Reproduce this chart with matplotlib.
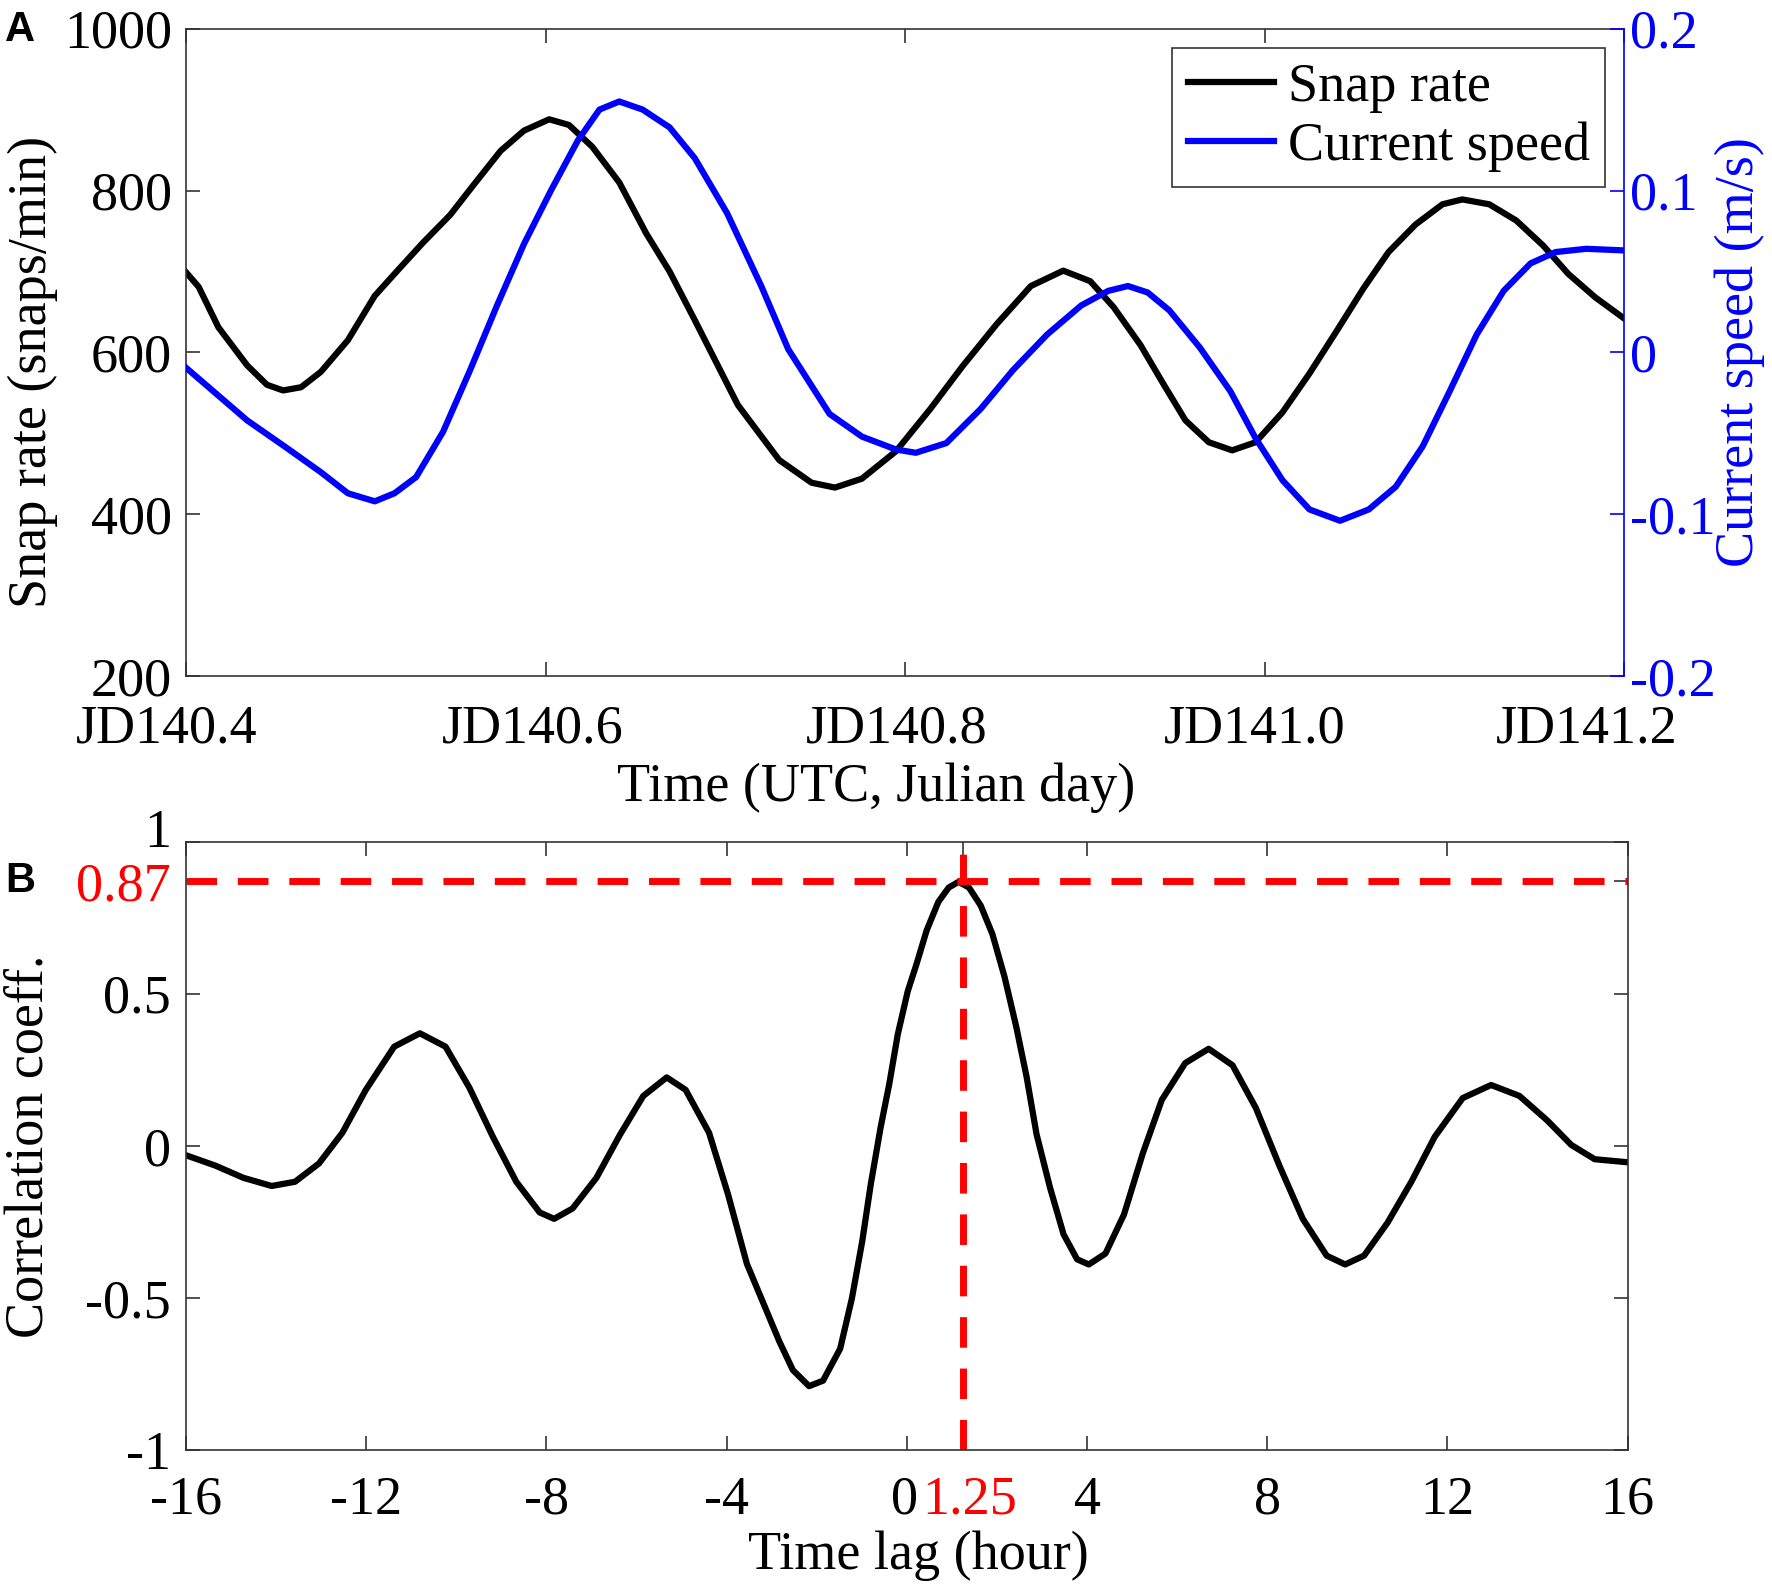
import numpy as np
import matplotlib
matplotlib.use("Agg")
import matplotlib.pyplot as plt
from matplotlib.transforms import ScaledTranslation

plt.rcParams['font.family'] = ['Liberation Serif', 'DejaVu Serif']
plt.rcParams['axes.unicode_minus'] = False

# --- panel A: snap rate and current speed vs Julian day ---
jd_snap = [140.400, 140.407, 140.418, 140.434, 140.445, 140.454, 140.464, 140.475,
           140.490, 140.505, 140.518, 140.532, 140.547, 140.560, 140.575, 140.588,
           140.602, 140.613, 140.626, 140.641, 140.656, 140.669, 140.683, 140.707,
           140.730, 140.748, 140.761, 140.776, 140.795, 140.814, 140.832, 140.851,
           140.870, 140.888, 140.903, 140.916, 140.931, 140.944, 140.956, 140.969,
           140.982, 140.995, 141.010, 141.025, 141.040, 141.055, 141.069, 141.084,
           141.099, 141.110, 141.125, 141.140, 141.155, 141.169, 141.184, 141.200]
snap_rate = [699, 681, 631, 584, 560, 553, 557, 576,
             615, 670, 702, 736, 770, 807, 849, 874,
             888, 881, 854, 810, 747, 700, 640, 535,
             467, 439, 433, 444, 478, 530, 583, 635,
             682, 701, 688, 656, 609, 560, 516, 489,
             479, 489, 526, 574, 626, 679, 724, 758,
             783, 789, 783, 763, 732, 697, 668, 642]

jd_curr = [140.400, 140.411, 140.434, 140.456, 140.475, 140.490, 140.505, 140.516,
           140.528, 140.543, 140.558, 140.573, 140.588, 140.603, 140.618, 140.630,
           140.641, 140.654, 140.669, 140.683, 140.701, 140.720, 140.735, 140.758,
           140.776, 140.795, 140.806, 140.823, 140.842, 140.860, 140.879, 140.898,
           140.913, 140.924, 140.935, 140.947, 140.964, 140.981, 140.995, 141.010,
           141.025, 141.042, 141.058, 141.073, 141.088, 141.103, 141.118, 141.133,
           141.148, 141.162, 141.179, 141.200]
curr_speed = [-0.0095, -0.020, -0.042, -0.059, -0.074, -0.087, -0.092, -0.087,
              -0.077, -0.049, -0.011, 0.029, 0.067, 0.100, 0.131, 0.150,
              0.155, 0.150, 0.139, 0.120, 0.086, 0.041, 0.002, -0.038,
              -0.052, -0.060, -0.062, -0.056, -0.035, -0.011, 0.011, 0.029,
              0.038, 0.041, 0.037, 0.026, 0.003, -0.024, -0.053, -0.079,
              -0.097, -0.104, -0.097, -0.083, -0.058, -0.024, 0.011, 0.038,
              0.055, 0.062, 0.064, 0.063]

jd_ticks = [140.4, 140.6, 140.8, 141.0, 141.2]
jd_labels = ['JD140.4', 'JD140.6', 'JD140.8', 'JD141.0', 'JD141.2']
snap_ticks = [200, 400, 600, 800, 1000]
speed_ticks = [-0.2, -0.1, 0, 0.1, 0.2]
speed_labels = ['-0.2', '-0.1', '0', '0.1', '0.2']

# --- panel B: cross-correlation vs time lag ---
lag = [-16.00, -15.35, -14.73, -14.10, -13.58, -13.05, -12.53, -12.01, -11.38,
       -10.81, -10.24, -9.71, -9.19, -8.67, -8.15, -7.83, -7.42, -6.89, -6.37,
       -5.85, -5.33, -4.91, -4.39, -3.97, -3.55, -2.83, -2.53, -2.17,
       -1.86, -1.48, -1.22, -0.99, -0.80, -0.58, -0.39, -0.20, 0.02, 0.21,
       0.44, 0.70, 0.93, 1.15, 1.38, 1.64, 1.90, 2.17, 2.43, 2.66, 2.88,
       3.18, 3.48, 3.78, 4.04, 4.41, 4.82, 5.24, 5.66, 6.18, 6.70,
       7.23, 7.75, 8.27, 8.79, 9.32, 9.73, 10.15, 10.67, 11.20, 11.72, 12.34,
       12.97, 13.60, 14.22, 14.75, 15.27, 16.00]
corr = [-0.031, -0.065, -0.105, -0.132, -0.118, -0.058, 0.043, 0.184, 0.326,
        0.370, 0.326, 0.191, 0.030, -0.118, -0.219, -0.240, -0.206, -0.105, 0.036,
        0.164, 0.225, 0.184, 0.043, -0.159, -0.388, -0.643, -0.737, -0.790,
        -0.772, -0.667, -0.502, -0.314, -0.126, 0.062, 0.203, 0.367, 0.508, 0.595,
        0.708, 0.802, 0.849, 0.868, 0.849, 0.790, 0.696, 0.555, 0.391, 0.226, 0.038,
        -0.138, -0.291, -0.373, -0.390, -0.354, -0.226, -0.024, 0.151, 0.272, 0.319,
        0.265, 0.124, -0.065, -0.240, -0.361, -0.390, -0.361, -0.253, -0.118, 0.030,
        0.157, 0.200, 0.164, 0.083, 0.003, -0.044, -0.054]

peak_lag = 1.25
peak_corr = 0.87
lag_ticks = [-16, -12, -8, -4, 0, 1.25, 4, 8, 12, 16]
lag_labels = ['-16', '-12', '-8', '-4', '0', '1.25', '4', '8', '12', '16']
corr_ticks = [-1, -0.5, 0, 0.5, 0.87, 1]
corr_labels = ['-1', '-0.5', '0', '0.5', '0.87', '1']

FS = 39
SPINE = '#333333'
BLUE = '#0000ff'
RED = '#ff0000'

fig = plt.figure(figsize=(17.72, 15.91), dpi=100)


def nudge(label, dx_pt, dy_pt):
    label.set_transform(label.get_transform()
                        + ScaledTranslation(dx_pt / 72, dy_pt / 72, fig.dpi_scale_trans))


# ---------------- panel A ----------------
ax = fig.add_axes([0.105, 0.575, 0.8115, 0.407])
ax2 = ax.twinx()
l1, = ax.plot(jd_snap, snap_rate, color='black', lw=4.5, label='Snap rate')
l2, = ax2.plot(jd_curr, curr_speed, color=BLUE, lw=4.5, label='Current speed')

ax.set_xlim(140.4, 141.2)
ax.set_ylim(200, 1000)
ax2.set_ylim(-0.2, 0.2)
ax.set_xticks(jd_ticks)
ax.set_xticklabels(jd_labels)
ax.set_yticks(snap_ticks)
ax2.set_yticks(speed_ticks)
ax2.set_yticklabels(speed_labels)

ax.tick_params(axis='x', direction='in', top=True, length=10, width=1.2,
               color=SPINE, labelsize=FS, pad=20)
ax.tick_params(axis='y', direction='in', length=10, width=1.2,
               color=SPINE, labelsize=FS, pad=10)
ax2.tick_params(axis='y', direction='in', length=10, width=1.2,
                color=BLUE, labelcolor=BLUE, labelsize=FS, pad=4)
for s in ['left', 'top', 'bottom']:
    ax.spines[s].set_color(SPINE)
    ax.spines[s].set_linewidth(1.2)
    ax2.spines[s].set_visible(False)
ax.spines['right'].set_visible(False)
ax2.spines['right'].set_color(BLUE)
ax2.spines['right'].set_linewidth(1.2)

# the date labels sit a little left of their ticks in the original
shift_pt = [-14, -9, -6, -7, -27]
for tick, dx in zip(ax.xaxis.get_major_ticks(), shift_pt):
    nudge(tick.label1, dx, 0)

ax.set_ylabel('Snap rate (snaps/min)', fontsize=FS)
ax.yaxis.set_label_coords(-0.089, 0.47)
ax2.set_ylabel('Current speed (m/s)', fontsize=FS, color=BLUE)
ax2.yaxis.set_label_coords(1.063, 0.5)
ax.set_xlabel('Time (UTC, Julian day)', fontsize=FS)
ax.xaxis.set_label_coords(0.48, -0.134)

leg = ax2.legend([l1, l2], ['Snap rate', 'Current speed'], loc='upper right',
                 fontsize=FS, fancybox=False, framealpha=1, edgecolor=SPINE,
                 borderaxespad=0.35, handlelength=1.6, handletextpad=0.25,
                 labelspacing=0.15, borderpad=0.28)
leg.get_frame().set_linewidth(1.2)

fig.text(0.003, 0.994, 'A', fontsize=30, fontweight='bold',
         family=['Liberation Sans', 'DejaVu Sans'], va='top', ha='left')

# ---------------- panel B ----------------
bx = fig.add_axes([0.105, 0.0886, 0.8135, 0.3824])
bx.plot(lag, corr, color='black', lw=4.5)
bx.axhline(peak_corr, color=RED, lw=5, dashes=(4.4, 3.0))
bx.axvline(peak_lag, color=RED, lw=5, dashes=(4.4, 3.0))

bx.set_xlim(-16, 16)
bx.set_ylim(-1, 1)
bx.set_xticks(lag_ticks)
bx.set_xticklabels(lag_labels)
bx.set_yticks(corr_ticks)
bx.set_yticklabels(corr_labels)
bx.tick_params(axis='both', direction='in', top=True, right=True, length=10,
               width=1.2, color=SPINE, labelsize=FS)
bx.tick_params(axis='x', pad=18)
bx.tick_params(axis='y', pad=11)
for tick in bx.xaxis.get_major_ticks():
    lab = tick.label1
    if lab.get_text() == '1.25':
        lab.set_color(RED)
        nudge(lab, 5, 0)
    if lab.get_text() == '0':
        nudge(lab, -2, 0)
for tick in bx.yaxis.get_major_ticks():
    lab = tick.label1
    if lab.get_text() == '0.87':
        lab.set_color(RED)
    if lab.get_text() == '1':
        # the "1" is lifted clear of the red 0.87 label
        nudge(lab, 0, 10)
for s in bx.spines.values():
    s.set_color(SPINE)
    s.set_linewidth(1.2)

bx.set_ylabel('Correlation coeff.', fontsize=FS)
bx.yaxis.set_label_coords(-0.091, 0.5)
bx.set_xlabel('Time lag (hour)', fontsize=FS)
bx.xaxis.set_label_coords(0.508, -0.133)

fig.text(0.003, 0.459, 'B', fontsize=30, fontweight='bold',
         family=['Liberation Sans', 'DejaVu Sans'], va='top', ha='left')

fig.savefig('out.png', dpi=100)
